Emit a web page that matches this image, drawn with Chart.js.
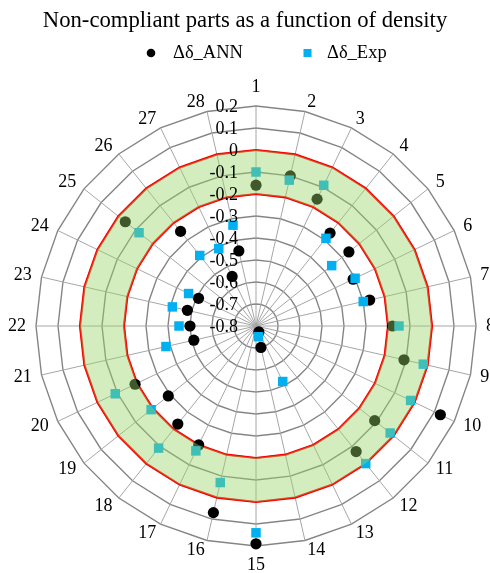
<!DOCTYPE html>
<html>
<head>
<meta charset="utf-8">
<title>Non-compliant parts as a function of density</title>
<script src="https://cdn.jsdelivr.net/npm/chart.js@4.4.1/dist/chart.umd.min.js"></script>
<style>
  html, body { margin: 0; padding: 0; background: #ffffff; }
  #wrap { width: 490px; height: 573px; }
</style>
</head>
<body>
<div id="wrap"><canvas id="chart" width="490" height="573"></canvas></div>
<script>
// Part numbers around the radar
const categories = ['1', '2', '3', '4', '5', '6', '7', '8', '9', '10', '11', '12', '13', '14',
                    '15', '16', '17', '18', '19', '20', '21', '22', '23', '24', '25', '26', '27', '28'];

// Deviation predicted by the network
const annValues = [-0.16, -0.10, -0.16, -0.26, -0.26, -0.31, -0.27, -0.18, -0.11, 0.13,
                   -0.11, -0.07, -0.77, -0.70, 0.19, 0.07, -0.20, -0.23, -0.29, -0.19,
                   -0.51, -0.50, -0.48, -0.51, -0.04, -0.25, -0.55, -0.45];

// Measured deviation
const expValues = [-0.10, -0.12, -0.09, -0.29, -0.36, -0.30, -0.30, -0.15, -0.02, -0.02,
                   -0.02, 0.00, -0.52, -0.75, 0.14, -0.07, -0.17, -0.09, -0.19, -0.09,
                   -0.38, -0.45, -0.41, -0.46, -0.12, -0.39, -0.41, -0.33];

// Radial axis labels
const tickLabels = ['-0.8', '-0.7', '-0.6', '-0.5', '-0.4', '-0.3', '-0.2', '-0.1', '0', '0.1', '0.2'];

// Tolerance band limits
const upperLimit = 0;
const lowerLimit = -0.2;

const serif = "'Liberation Serif', 'Times New Roman', serif";
const bandColor = 'rgba(150, 212, 100, 0.42)';

const upperLine = categories.map(() => upperLimit);
const lowerLine = categories.map(() => lowerLimit);

// Labels around the radar, value labels on the vertical spoke, and the legend row
const radarText = {
  id: 'radarText',
  afterDatasetsDraw(chart) {
    const r = chart.scales.r;
    const ctx = chart.ctx;
    const n = categories.length;
    ctx.save();
    ctx.fillStyle = '#000000';
    ctx.font = '18px ' + serif;

    ctx.textAlign = 'right';
    ctx.textBaseline = 'middle';
    tickLabels.forEach((t) => {
      const d = r.getDistanceFromCenterForValue(parseFloat(t));
      ctx.fillText(t, r.xCenter - 18, r.yCenter - d + 1.5);
    });

    categories.forEach((lab, i) => {
      const p = r.getPointPosition(i, r.drawingArea + 10);
      let align = 'center';
      let y = p.y;
      if (i === 0) {
        y -= 9;
      } else if (i * 2 === n) {
        y += 9;
      } else {
        align = i * 2 < n ? 'left' : 'right';
      }
      ctx.textAlign = align;
      ctx.fillText(lab, p.x, y);
    });

    // legend
    const ds = chart.data.datasets;
    const legendY = 53;
    ctx.font = '18.5px ' + serif;
    ctx.textAlign = 'left';
    ctx.fillStyle = ds[0].backgroundColor;
    ctx.beginPath();
    ctx.arc(151, legendY, 4.3, 0, Math.PI * 2);
    ctx.fill();
    ctx.fillStyle = '#000000';
    ctx.fillText(ds[0].label, 173, legendY);

    ctx.fillStyle = ds[1].backgroundColor;
    ctx.fillRect(307.5 - 4, legendY - 4, 8, 8);
    ctx.fillStyle = '#000000';
    ctx.fillText(ds[1].label, 327, legendY);
    ctx.restore();
  }
};

new Chart(document.getElementById('chart'), {
  type: 'radar',
  data: {
    labels: categories,
    datasets: [
      {
        label: 'Δδ_ANN',
        data: annValues,
        showLine: false,
        fill: false,
        pointStyle: 'circle',
        pointRadius: 5.6,
        pointBorderWidth: 0,
        backgroundColor: '#000000',
        pointBackgroundColor: '#000000',
        borderColor: '#000000',
        clip: false,
        order: 2
      },
      {
        label: 'Δδ_Exp',
        data: expValues,
        showLine: false,
        fill: false,
        pointStyle: 'rect',
        pointRadius: 6.7,
        pointBorderWidth: 0,
        backgroundColor: '#00B0F0',
        pointBackgroundColor: '#00B0F0',
        borderColor: '#00B0F0',
        clip: false,
        order: 1
      },
      {
        label: 'upper',
        data: upperLine,
        fill: false,
        borderColor: '#FF0000',
        borderWidth: 2.2,
        pointRadius: 0,
        clip: false,
        order: 3
      },
      {
        label: 'lower',
        data: lowerLine,
        fill: false,
        borderColor: '#FF0000',
        borderWidth: 2.2,
        pointRadius: 0,
        clip: false,
        order: 3
      },
      {
        label: 'band',
        data: upperLine,
        fill: 3,
        backgroundColor: bandColor,
        borderWidth: 0,
        pointRadius: 0,
        clip: false,
        order: 0
      }
    ]
  },
  options: {
    responsive: false,
    animation: false,
    devicePixelRatio: 1,
    events: [],
    layout: { padding: 0 },
    plugins: {
      legend: { display: false },
      tooltip: { enabled: false },
      title: {
        display: true,
        text: 'Non-compliant parts as a function of density',
        color: '#000000',
        font: { family: serif, size: 22.7, weight: 'normal', lineHeight: 1.2 },
        padding: { top: 7, bottom: 28 }
      }
    },
    scales: {
      r: {
        min: -0.8,
        max: 0.2,
        beginAtZero: false,
        ticks: { stepSize: 0.1, display: false },
        pointLabels: { display: false },
        grid: { color: '#858585', lineWidth: 1.4, circular: false },
        angleLines: { display: true, color: '#a6a6a6', lineWidth: 1 },
        afterFit(scale) {
          scale.xCenter = 256;
          scale.yCenter = 326;
          scale.drawingArea = 220;
        }
      }
    }
  },
  plugins: [radarText]
});
</script>
</body>
</html>
